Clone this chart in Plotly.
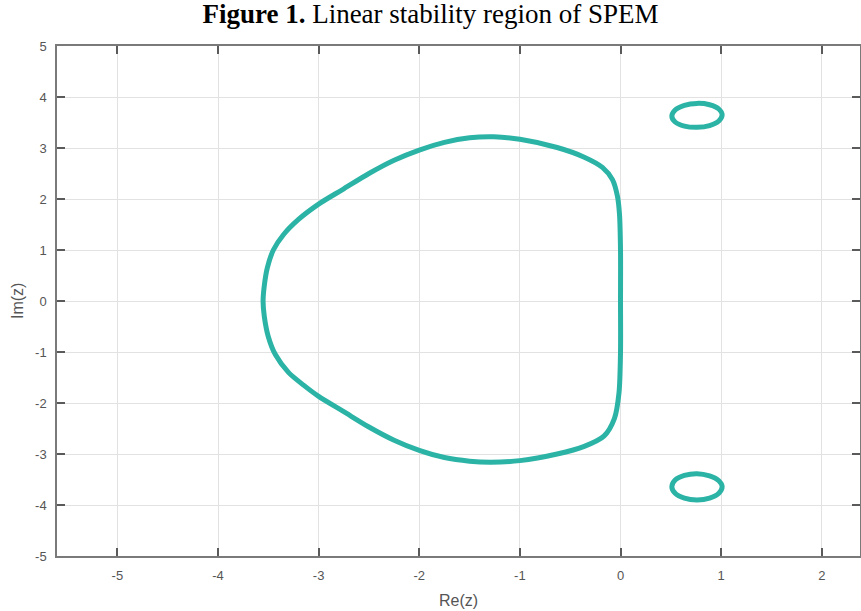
import plotly.graph_objects as go

# Main stability boundary, traversed counter-clockwise from (0,0)
main_re = [0.0, 0.0, -0.01, -0.03, -0.08, -0.18, -0.36, -0.63, -1.0,
           -1.26, -1.5, -1.75, -2.0, -2.25, -2.5, -2.75, -3.0, -3.2, -3.35, -3.45, -3.51,
           -3.54, -3.552,
           -3.54, -3.5, -3.43, -3.3, -3.15, -3.0, -2.75, -2.5, -2.25, -2.0, -1.75, -1.5, -1.29,
           -1.0, -0.63, -0.36, -0.165, -0.06, -0.015, 0.0, 0.0]
main_im = [0.0, 1.0, 1.7, 2.05, 2.38, 2.62, 2.82, 3.01, 3.17,
           3.22, 3.2, 3.11, 2.96, 2.76, 2.5, 2.2, 1.9, 1.6, 1.3, 1.0, 0.65,
           0.3, 0.0,
           -0.3, -0.7, -1.05, -1.4, -1.65, -1.87, -2.17, -2.47, -2.73, -2.93, -3.07, -3.14, -3.16,
           -3.13, -3.0, -2.85, -2.65, -2.3, -1.8, -1.0, 0.0]

# Small upper island
up_re = [1.01, 0.977, 0.885, 0.76, 0.635, 0.543, 0.51, 0.543, 0.635, 0.76, 0.885, 0.977, 1.01]
up_im = [3.65, 3.765, 3.848, 3.875, 3.838, 3.745, 3.625, 3.51, 3.43, 3.405, 3.44, 3.53, 3.65]

# Small lower island
lo_re = [1.01, 0.977, 0.885, 0.76, 0.635, 0.543, 0.51, 0.543, 0.635, 0.76, 0.885, 0.977, 1.01]
lo_im = [-3.64, -3.525, -3.43, -3.385, -3.42, -3.51, -3.64, -3.77, -3.865, -3.9, -3.865, -3.77, -3.64]

x_ticks = [-5, -4, -3, -2, -1, 0, 1, 2]
x_labels = ["-5", "-4", "-3", "-2", "-1", "0", "1", "2"]
y_ticks = [-5, -4, -3, -2, -1, 0, 1, 2, 3, 4, 5]
y_labels = ["-5", "-4", "-3", "-2", "-1", "0", "1", "2", "3", "4", "5"]

color = "#2bb3a6"
label_font = dict(family="Liberation Sans, Arial", size=16, color="#555555")

fig = go.Figure()
for xs, ys in [(main_re, main_im), (up_re, up_im), (lo_re, lo_im)]:
    fig.add_trace(go.Scatter(x=xs, y=ys, mode="lines",
                             line=dict(color=color, width=5, shape="spline", smoothing=0.8),
                             hoverinfo="skip", showlegend=False))

axis_common = dict(showgrid=True, gridcolor="#e2e2e2", gridwidth=1,
                   showline=True, linecolor="#7a7a7a", linewidth=1.5, mirror="ticks",
                   ticks="inside", ticklen=8, tickcolor="#5a5a5a", tickwidth=1.5,
                   zeroline=False, automargin=False,
                   tickfont=dict(family="Liberation Sans, Arial", size=13, color="#555555"))

fig.update_xaxes(range=[-5.6, 2.38], tickvals=x_ticks, ticktext=x_labels, ticklabelstandoff=7,
                 title=dict(text="Re(z)", standoff=12, font=label_font),
                 **axis_common)
fig.update_yaxes(range=[-5, 5], tickvals=y_ticks, ticktext=y_labels, ticklabelstandoff=6,
                 **axis_common)

fig.add_annotation(text="Im(z)", xref="paper", yref="paper", x=(17 - 57) / 803, y=0.5,
                   xanchor="center", yanchor="middle", textangle=-90, showarrow=False,
                   font=label_font)

fig.update_layout(
    width=861, height=611,
    margin=dict(l=57, r=1, t=46, b=55),
    paper_bgcolor="white", plot_bgcolor="white",
    title=dict(text="<b>Figure 1.</b> Linear stability region of SPEM",
               x=0.5, xanchor="center", y=1 - 14 / 611, yanchor="middle", yref="container",
               font=dict(family="Liberation Serif, Times New Roman", size=27, color="black")),
)

fig.write_html("out.html", config={"displayModeBar": False},
               post_script="document.body.style.margin='0px';")
